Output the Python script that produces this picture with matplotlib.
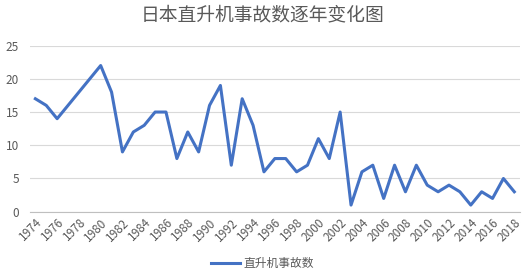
import matplotlib.pyplot as plt

plt.rcParams['font.family'] = ['Noto Sans CJK SC', 'DejaVu Sans']

years = list(range(1974, 2019))
accidents = [17, 16, 14, 16, 18, 20, 22, 18, 9, 12, 13, 15, 15, 8, 12, 9, 16, 19, 7, 17,
             13, 6, 8, 8, 6, 7, 11, 8, 15, 1, 6, 7, 2, 7, 3, 7, 4, 3, 4, 3, 1, 3, 2, 5, 3]
tick_years = list(range(1974, 2019, 2))
yticks = [0, 5, 10, 15, 20, 25]

fig = plt.figure(figsize=(5.25, 2.73), dpi=100)
ax = fig.add_axes([0.057, 0.2245, 0.933, 0.6085])

ax.plot(years, accidents, color='#4472C4', linewidth=2.2, label='直升机事故数',
        solid_joinstyle='round')

ax.set_xlim(1973.5, 2018.5)
ax.set_ylim(0, 25)
ax.set_yticks(yticks)
ax.set_xticks(tick_years)
ax.set_xticklabels([str(y) for y in tick_years], rotation=45, ha='right',
                   rotation_mode='anchor')
ax.grid(axis='y', color='#D9D9D9', linewidth=0.8)
ax.set_axisbelow(True)
for s in ['top', 'right', 'left']:
    ax.spines[s].set_visible(False)
ax.spines['bottom'].set_color('#BFBFBF')
ax.tick_params(axis='both', length=0, labelsize=8.5, labelcolor='#595959')
ax.tick_params(axis='x', pad=3)
ax.tick_params(axis='y', pad=8)

fig.text(0.5, 0.945, '日本直升机事故数逐年变化图', ha='center', va='center',
         fontsize=13.5, color='#595959')
fig.legend(loc='center', bbox_to_anchor=(0.5, 0.035), frameon=False, fontsize=8.5,
           labelcolor='#595959', handlelength=2.5, handletextpad=0.3)

fig.savefig('out.png', dpi=100)
